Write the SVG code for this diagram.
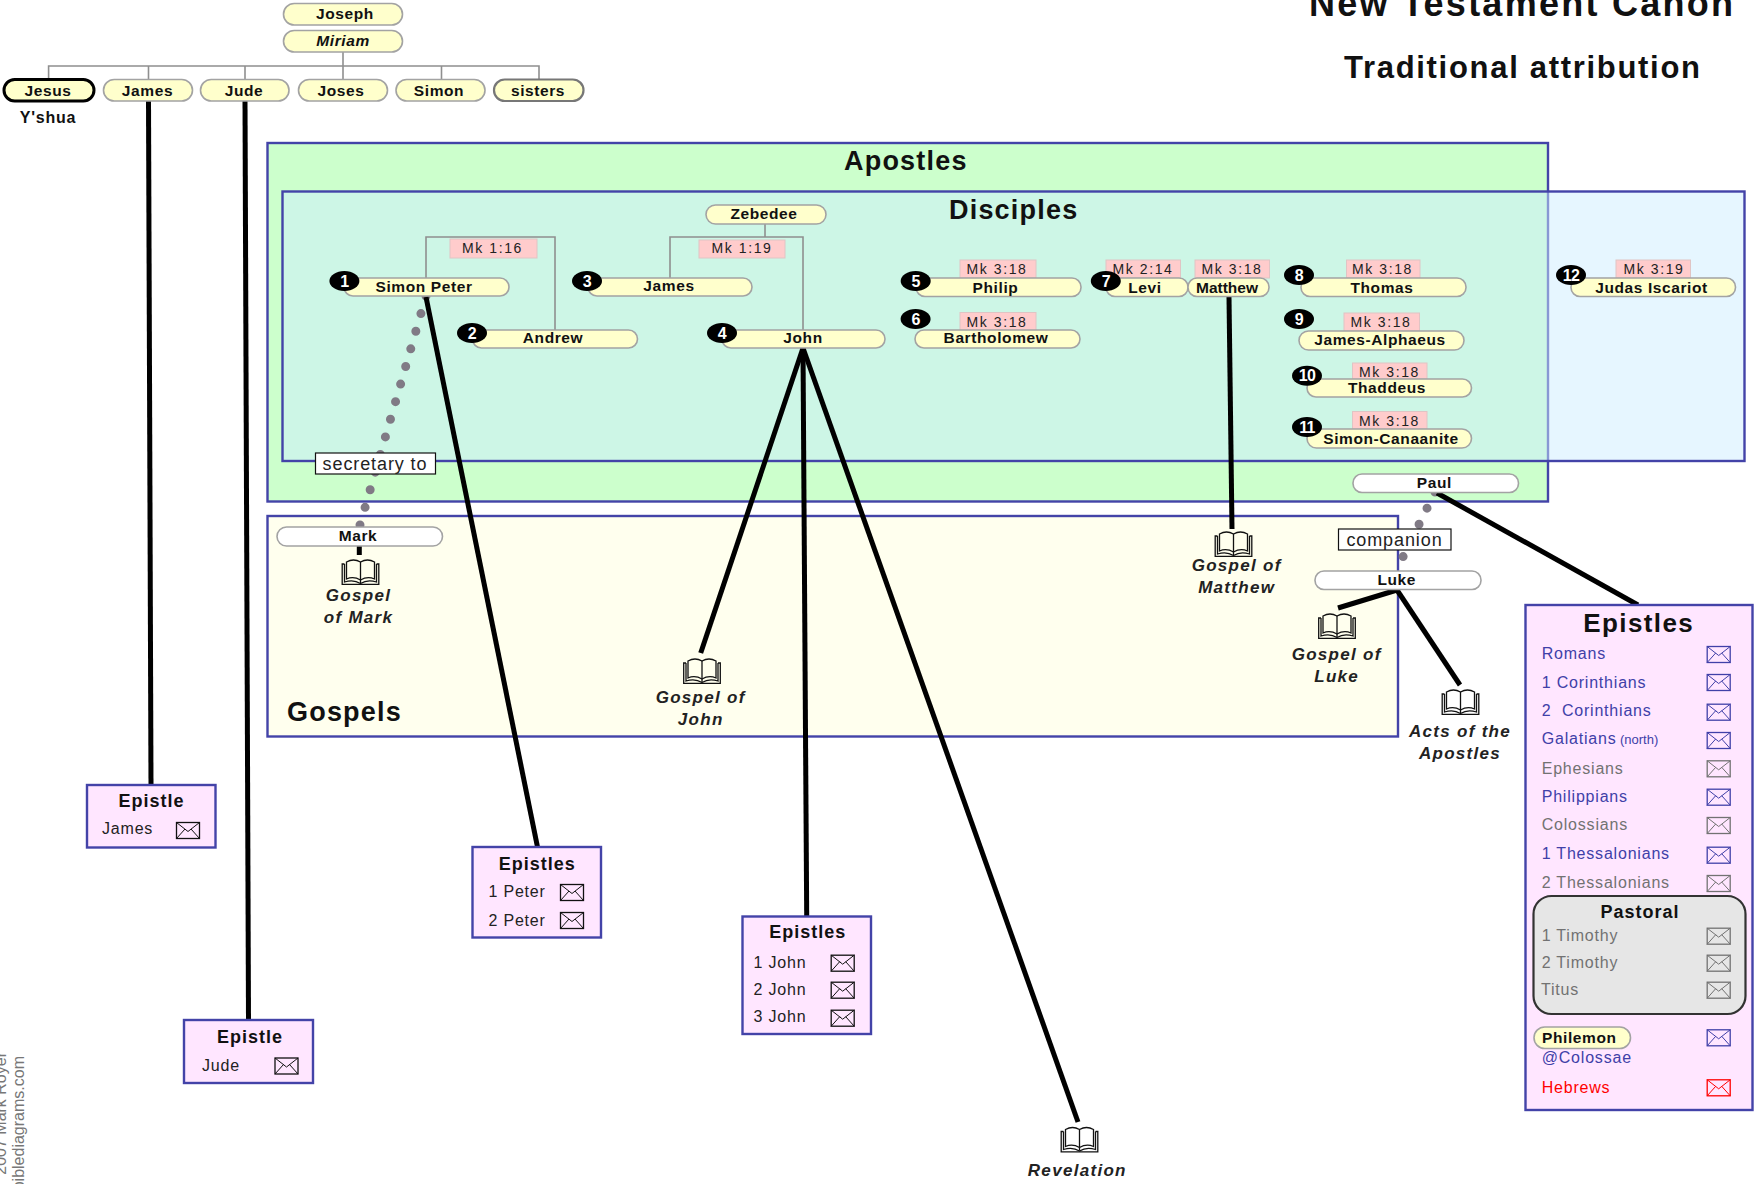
<svg xmlns="http://www.w3.org/2000/svg" xmlns:xlink="http://www.w3.org/1999/xlink" width="1754" height="1184" viewBox="0 0 1754 1184">
<style>
text{font-family:"Liberation Sans",Arial,sans-serif;fill:#111}
.p{fill:#ffffcc;stroke:#a3a3a3;stroke-width:1.6}
.w{fill:#fff;stroke:#a3a3a3;stroke-width:1.6}
.n{font-weight:bold;font-size:15.5px;letter-spacing:.6px;text-anchor:middle}
.nar{font-weight:bold;font-size:15.5px;letter-spacing:0;text-anchor:middle}
.h{font-weight:bold;font-size:27px;letter-spacing:1.2px}
.pk{fill:#ffcccc;stroke:#e0c4c4;stroke-width:1}
.mk{font-size:14px;letter-spacing:1.6px;text-anchor:middle;fill:#222}
.bd{fill:#000}
.bt{fill:#fff;font-weight:bold;font-size:16px;text-anchor:middle;letter-spacing:-.6px}
.box{fill:#ffe6ff;stroke:#4343a8;stroke-width:2.4}
.reg{stroke:#4343a8;stroke-width:2.4}
.ti{font-weight:bold;font-size:18px;letter-spacing:1px;text-anchor:middle}
.it{font-size:16px;letter-spacing:.8px;fill:#222}
.bl{fill:#4040a8}.gy{fill:#727272}.rd{fill:#ff0000}
.g{font-weight:bold;font-style:italic;font-size:17px;letter-spacing:1.3px;text-anchor:middle;fill:#222}
.lb{font-size:18px;letter-spacing:.9px;text-anchor:middle;fill:#222}
.tl{fill:#fff;stroke:#111;stroke-width:1.2}
.thin{fill:none;stroke:#8f8f8f;stroke-width:1.6}
.thick{fill:none;stroke:#000;stroke-width:5}
.dots{fill:none;stroke:#807a85;stroke-width:9;stroke-linecap:round}
.ek{stroke:#111}.eb{stroke:#4040a8}.eg{stroke:#727272}.er{stroke:#ff0000}
.wm{font-size:16px;text-anchor:end}
text.wm{fill:#777}
</style>
<defs>
<symbol id="env" viewBox="0 0 24 17" width="24" height="17" overflow="visible">
<g fill="none" stroke-width="1.3"><rect x=".5" y=".5" width="23" height="16"/><path d="M.5 .5L12 9.5L23.5 .5M.5 16.5L9 7M23.5 16.5L15 7" stroke-width="1"/></g>
</symbol>
<symbol id="book" viewBox="0 0 38 26" width="38" height="26" overflow="visible">
<g fill="none" stroke="#111" stroke-width="1.3"><path d="M5 20V3Q12-1 19 3Q26-1 33 3V20Q26 17 19 21Q12 17 5 20Z"/><path d="M19 3V24"/><path d="M3 5H.7V25.4H37.3V5H35"/><path d="M3 5V23Q12 20 19 24.5Q26 20 35 23V5"/></g>
</symbol>
</defs>

<g id="regions">
<rect id="apostles" x="267.5" y="143" width="1280.5" height="358.5" fill="#ccffcc" class="reg"/>
<rect id="disciples" x="282.5" y="191.5" width="1462" height="269.5" fill="#cdedff" fill-opacity=".5" class="reg"/>
<rect id="gospels" x="267.5" y="516" width="1130.5" height="220.5" fill="#ffffee" class="reg"/>
<text class="h" x="844" y="170">Apostles</text>
<text class="h" x="949" y="218.5">Disciples</text>
<text class="h" x="287" y="721">Gospels</text>
</g>

<g id="title">
<text x="1309" y="16" font-size="36" font-weight="bold" letter-spacing="2.25">New Testament Canon</text>
<text x="1344" y="78" font-size="31" font-weight="bold" letter-spacing="1.7">Traditional attribution</text>
</g>

<text class="wm" transform="translate(6 1052) rotate(-90)">2007 Mark Royer</text>
<text class="wm" transform="translate(24 1056) rotate(-90)">www.biblediagrams.com</text>

<g id="connectors">
<path class="thin" d="M343 52V66M48.6 79V66H539V79M148.5 66V79M245 66V79M343 66V79M441.5 66V79"/>
<path class="thin" d="M426 278V237H555V330"/>
<path class="thin" d="M765 224V237M670 278V237H803V330"/>
<path class="dots" stroke-dasharray="0 18.33" d="M426 296L360 525"/>
<path class="dots" stroke-dasharray="0 18" d="M1435 492L1396 571"/>
<path class="thick" d="M148.5 100L151 785"/>
<path class="thick" d="M245 100L248.5 1020"/>
<path class="thick" d="M426 297L537.5 847"/>
<path class="thick" d="M803 348L700.7 653"/>
<path class="thick" d="M803 348L806.7 916"/>
<path class="thick" d="M803 348L1078 1122"/>
<path class="thick" d="M1229 297L1232 529"/>
<path class="thick" d="M359.3 546V555"/>
<path class="thick" d="M1437 493L1638 605"/>
<path class="thick" d="M1397 590L1338 608"/>
<path class="thick" d="M1397 590L1460 685"/>
</g>

<g id="n-joseph"><rect class="p" x="283.5" y="3.5" width="119" height="21.5" rx="10.7"/><text class="n" x="345" y="19">Joseph</text></g>
<g id="n-miriam"><rect class="p" x="283.5" y="30.5" width="119" height="21.5" rx="10.7"/><text class="n" x="343" y="46" font-style="italic">Miriam</text></g>
<g id="n-jesus"><rect x="4" y="79.5" width="90" height="21.5" rx="10.7" fill="#ffffcc" stroke="#000" stroke-width="3"/><text class="n" x="48" y="96">Jesus</text><text x="48" y="123" text-anchor="middle" font-size="16" font-weight="bold" letter-spacing=".8">Y'shua</text></g>
<g id="n-james-b"><rect class="p" x="103.5" y="79.5" width="89" height="21.5" rx="10.7"/><text class="n" x="147.5" y="96">James</text></g>
<g id="n-jude-b"><rect class="p" x="200.5" y="79.5" width="88.5" height="21.5" rx="10.7"/><text class="n" x="244" y="96">Jude</text></g>
<g id="n-joses"><rect class="p" x="298.5" y="79.5" width="89" height="21.5" rx="10.7"/><text class="n" x="341" y="96">Joses</text></g>
<g id="n-simon"><rect class="p" x="396" y="79.5" width="89" height="21.5" rx="10.7"/><text class="n" x="439" y="96">Simon</text></g>
<g id="n-sisters"><rect x="494" y="79.5" width="89.5" height="21.5" rx="10.7" fill="#ffffcc" stroke="#777" stroke-width="2.2"/><text class="n" x="538" y="96">sisters</text></g>

<g id="n-zebedee"><rect class="p" x="706" y="205" width="120" height="19" rx="9.5"/><text class="n" x="764" y="219">Zebedee</text></g>

<g id="n-peter"><rect class="pk" x="450" y="239" width="87" height="19"/><text class="mk" x="492.5" y="253">Mk 1:16</text>
<rect class="p" x="344" y="278" width="165" height="18" rx="9"/><text class="n" x="424" y="291.5">Simon Peter</text>
<ellipse class="bd" cx="344.4" cy="281" rx="15" ry="10"/><text class="bt" x="344.4" y="286.5">1</text></g>
<g id="n-andrew"><rect class="p" x="472.5" y="330" width="165" height="18" rx="9"/><text class="n" x="553" y="343">Andrew</text>
<ellipse class="bd" cx="472" cy="333" rx="15" ry="10"/><text class="bt" x="472" y="338.5">2</text></g>
<g id="n-james"><rect class="pk" x="699" y="240" width="86" height="18"/><text class="mk" x="742" y="252.5">Mk 1:19</text>
<rect class="p" x="588" y="278" width="164" height="18" rx="9"/><text class="n" x="669" y="291">James</text>
<ellipse class="bd" cx="587" cy="281" rx="15" ry="10"/><text class="bt" x="587" y="286.5">3</text></g>
<g id="n-john"><rect class="p" x="722" y="330" width="163" height="18" rx="9"/><text class="n" x="803" y="343">John</text>
<ellipse class="bd" cx="722" cy="333" rx="15" ry="10"/><text class="bt" x="722" y="338.5">4</text></g>
<g id="n-philip"><rect class="pk" x="960" y="260" width="76" height="18"/><text class="mk" x="997" y="274">Mk 3:18</text>
<rect class="p" x="916" y="278" width="165" height="18.5" rx="9"/><text class="n" x="995.5" y="292.5">Philip</text>
<ellipse class="bd" cx="915.7" cy="281" rx="15" ry="10"/><text class="bt" x="915.7" y="286.5">5</text></g>
<g id="n-bartholomew"><rect class="pk" x="960" y="312.5" width="76" height="18"/><text class="mk" x="997" y="327">Mk 3:18</text>
<rect class="p" x="915" y="330" width="165" height="18" rx="9"/><text class="n" x="996" y="343">Bartholomew</text>
<ellipse class="bd" cx="915.6" cy="319" rx="15" ry="10"/><text class="bt" x="915.6" y="324.5">6</text></g>
<g id="n-levi"><rect class="pk" x="1106" y="260" width="74.5" height="18"/><text class="mk" x="1143" y="274">Mk 2:14</text>
<rect class="p" x="1106" y="278" width="82" height="18.5" rx="9"/><text class="n" x="1145" y="292.5">Levi</text>
<ellipse class="bd" cx="1105.8" cy="281" rx="15" ry="10"/><text class="bt" x="1105.8" y="286.5">7</text></g>
<g id="n-matthew"><rect class="pk" x="1195" y="260" width="74.5" height="18"/><text class="mk" x="1232" y="274">Mk 3:18</text>
<rect class="p" x="1188" y="278" width="81" height="18.5" rx="9"/><text class="nar" x="1227" y="292.5">Matthew</text></g>
<g id="n-thomas"><rect class="pk" x="1346.5" y="260" width="73.5" height="18"/><text class="mk" x="1382.5" y="274">Mk 3:18</text>
<rect class="p" x="1301" y="278" width="165" height="18.5" rx="9"/><text class="n" x="1382" y="292.5">Thomas</text>
<ellipse class="bd" cx="1299" cy="275" rx="15" ry="10"/><text class="bt" x="1299" y="280.5">8</text></g>
<g id="n-alphaeus"><rect class="pk" x="1344" y="313" width="75.5" height="18"/><text class="mk" x="1381" y="327">Mk 3:18</text>
<rect class="p" x="1299" y="331" width="165" height="19" rx="9.5"/><text class="n" x="1380" y="345">James-Alphaeus</text>
<ellipse class="bd" cx="1299" cy="319" rx="15" ry="10"/><text class="bt" x="1299" y="324.5">9</text></g>
<g id="n-thaddeus"><rect class="pk" x="1352.5" y="363" width="74.5" height="16"/><text class="mk" x="1389.5" y="377">Mk 3:18</text>
<rect class="p" x="1307" y="379" width="164.5" height="18" rx="9"/><text class="n" x="1387" y="393">Thaddeus</text>
<ellipse class="bd" cx="1307" cy="375.7" rx="15" ry="10"/><text class="bt" x="1307" y="381.2">10</text></g>
<g id="n-canaanite"><rect class="pk" x="1352.5" y="411.5" width="74.5" height="17.5"/><text class="mk" x="1389.5" y="426">Mk 3:18</text>
<rect class="p" x="1307" y="429" width="164.5" height="19" rx="9.5"/><text class="n" x="1391" y="444">Simon-Canaanite</text>
<ellipse class="bd" cx="1307" cy="427" rx="15" ry="10"/><text class="bt" x="1307" y="432.5">11</text></g>
<g id="n-judas"><rect class="pk" x="1616" y="260" width="74.5" height="18"/><text class="mk" x="1654" y="274">Mk 3:19</text>
<rect class="p" x="1571" y="278" width="164.5" height="18.5" rx="9"/><text class="n" x="1651.5" y="292.5">Judas Iscariot</text>
<ellipse class="bd" cx="1571" cy="275" rx="15" ry="10"/><text class="bt" x="1571" y="280.5">12</text></g>

<g id="n-paul"><rect class="w" x="1353" y="474" width="165.5" height="18.5" rx="9"/><text class="n" x="1434.3" y="488">Paul</text></g>
<g id="n-companion"><rect class="tl" x="1338.5" y="529" width="112.5" height="21"/><text class="lb" x="1394.5" y="546">companion</text></g>
<g id="n-luke"><rect class="w" x="1315" y="571" width="166" height="18.5" rx="9"/><text class="n" x="1396.7" y="584.5">Luke</text></g>
<g id="n-mark"><rect class="w" x="277" y="527" width="165.5" height="19" rx="9.5"/><text class="n" x="358" y="540.5">Mark</text></g>
<g id="n-secretary"><rect class="tl" x="315.5" y="453" width="120" height="21"/><text class="lb" x="375" y="470">secretary to</text></g>

<g id="b-mark"><use xlink:href="#book" href="#book" x="341.5" y="559"/><text class="g" x="358.5" y="601">Gospel</text><text class="g" x="358.5" y="622.5">of Mark</text></g>
<g id="b-matthew"><use xlink:href="#book" href="#book" x="1214.5" y="531"/><text class="g" x="1236.7" y="571">Gospel of</text><text class="g" x="1236.7" y="593">Matthew</text></g>
<g id="b-luke"><use xlink:href="#book" href="#book" x="1318" y="613"/><text class="g" x="1336.7" y="660">Gospel of</text><text class="g" x="1336.7" y="682">Luke</text></g>
<g id="b-acts"><use xlink:href="#book" href="#book" x="1441.5" y="689"/><text class="g" x="1460" y="737">Acts of the</text><text class="g" x="1460" y="759">Apostles</text></g>
<g id="b-john"><use xlink:href="#book" href="#book" x="683" y="658"/><text class="g" x="700.7" y="703">Gospel of</text><text class="g" x="700.7" y="724.5">John</text></g>
<g id="b-rev"><use xlink:href="#book" href="#book" x="1060.5" y="1126.5"/><text class="g" x="1077.3" y="1176">Revelation</text></g>

<g id="e-james"><rect class="box" x="87" y="785" width="128.5" height="62.5"/><text class="ti" x="151.5" y="807">Epistle</text><text class="it" x="102" y="834">James</text><use href="#env" class="ek" x="176" y="822"/></g>
<g id="e-jude"><rect class="box" x="184" y="1020" width="129" height="63"/><text class="ti" x="250" y="1043">Epistle</text><text class="it" x="202" y="1071">Jude</text><use href="#env" class="ek" x="274.5" y="1057.5"/></g>
<g id="e-peter"><rect class="box" x="472.5" y="847" width="128.5" height="90.5"/><text class="ti" x="537.3" y="870">Epistles</text><text class="it" x="488.5" y="897">1 Peter</text><text class="it" x="488.5" y="925.5">2 Peter</text><use href="#env" class="ek" x="560" y="884"/><use href="#env" class="ek" x="560" y="912"/></g>
<g id="e-john"><rect class="box" x="742.5" y="916.5" width="128.5" height="117.5"/><text class="ti" x="807.7" y="938">Epistles</text><text class="it" x="753.5" y="968.2">1 John</text><text class="it" x="753.5" y="995.2">2 John</text><text class="it" x="753.5" y="1022.2">3 John</text><use href="#env" class="ek" x="830.7" y="954.7"/><use href="#env" class="ek" x="830.7" y="981.7"/><use href="#env" class="ek" x="830.7" y="1009.7"/></g>

<g id="e-paul"><rect class="box" x="1525.5" y="605" width="227" height="505"/>
<text x="1638.7" y="632.3" text-anchor="middle" font-size="26" font-weight="bold" letter-spacing="1.4">Epistles</text>
<text class="it bl" x="1541.7" y="659.3">Romans</text><use href="#env" class="eb" x="1706.7" y="646"/>
<text class="it bl" x="1541.7" y="687.7">1 Corinthians</text><use href="#env" class="eb" x="1706.7" y="674"/>
<text class="it bl" x="1541.7" y="716" xml:space="preserve">2  Corinthians</text><use href="#env" class="eb" x="1706.7" y="703.7"/>
<text class="it bl" x="1541.7" y="744.3">Galatians <tspan x="1620" font-size="13" letter-spacing="0">(north)</tspan></text><use href="#env" class="eb" x="1706.7" y="732"/>
<text class="it gy" x="1541.7" y="774">Ephesians</text><use href="#env" class="eg" x="1706.7" y="760.3"/>
<text class="it bl" x="1541.7" y="802">Philippians</text><use href="#env" class="eb" x="1706.7" y="788.7"/>
<text class="it gy" x="1541.7" y="830.3">Colossians</text><use href="#env" class="eg" x="1706.7" y="817"/>
<text class="it bl" x="1541.7" y="858.7">1 Thessalonians</text><use href="#env" class="eb" x="1706.7" y="846.7"/>
<text class="it gy" x="1541.7" y="888.3">2 Thessalonians</text><use href="#env" class="eg" x="1706.7" y="875"/>
<rect x="1533.5" y="896" width="212" height="118" rx="18" fill="#e6e6e6" stroke="#333" stroke-width="2.2"/>
<text class="ti" x="1640" y="918">Pastoral</text>
<text class="it gy" x="1541.7" y="941.3">1 Timothy</text><use href="#env" class="eg" x="1706.7" y="927.7"/>
<text class="it gy" x="1541.7" y="968.3">2 Timothy</text><use href="#env" class="eg" x="1706.7" y="954.7"/>
<text class="it gy" x="1541" y="995">Titus</text><use href="#env" class="eg" x="1706.7" y="981.7"/>
<rect class="p" x="1534" y="1027" width="96.5" height="21.5" rx="10.7"/><text x="1542" y="1043" font-size="15.5" font-weight="bold" letter-spacing=".6">Philemon</text><use href="#env" class="eb" x="1706.7" y="1029.3"/>
<text class="it bl" x="1541.7" y="1063.3">@Colossae</text>
<text class="it rd" x="1541.7" y="1092.7">Hebrews</text><use href="#env" class="er" x="1706.7" y="1079.3"/>
</g>
</svg>
